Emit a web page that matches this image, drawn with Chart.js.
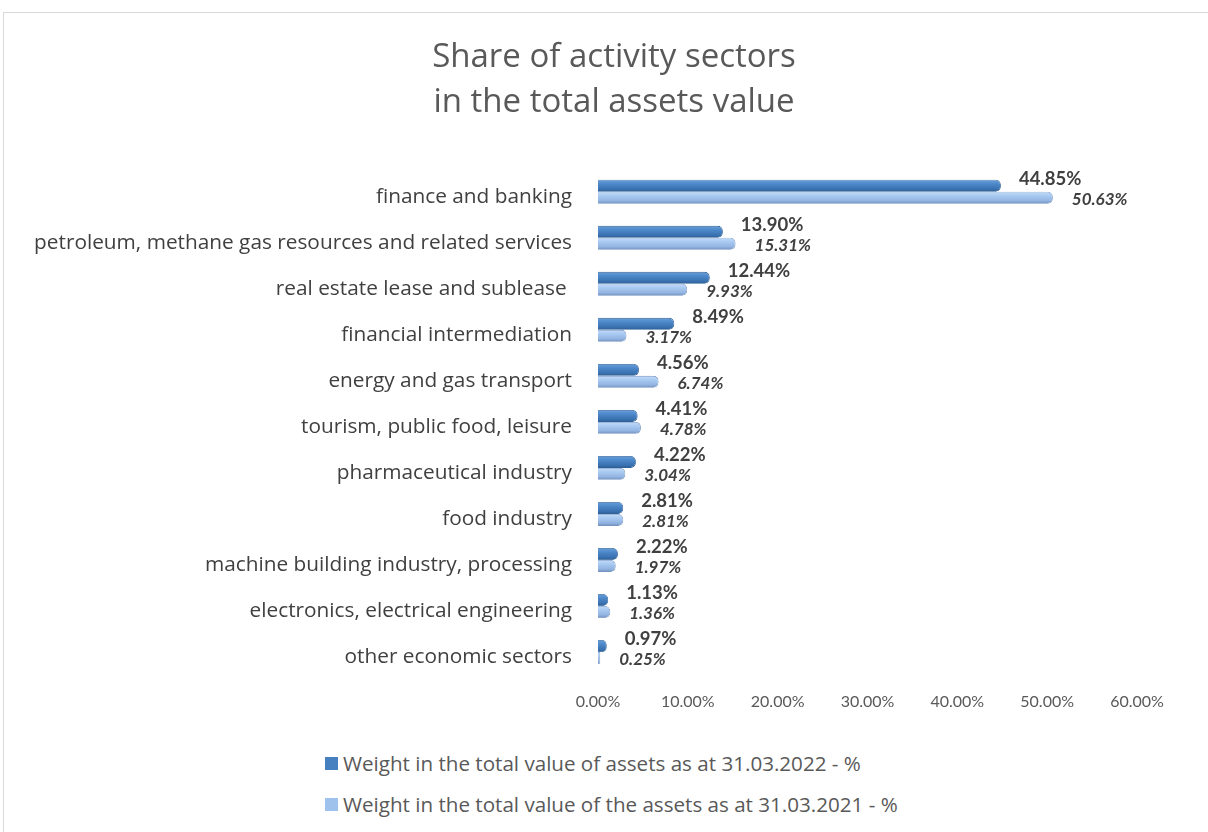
<!DOCTYPE html>
<html>
<head>
<meta charset="utf-8">
<script src="https://cdn.jsdelivr.net/npm/chart.js@4"></script>
<style>
  html, body { margin:0; padding:0; background:#fff; overflow:hidden; width:1208px; height:832px; }
  #frame { position:absolute; left:3px; top:12px; width:1230px; height:860px; border:1px solid #d9d9d9; box-sizing:border-box; }
  #wrap { position:absolute; left:4px; top:12px; width:1220px; height:730px; }
  #legend { position:absolute; left:325px; top:750px; font-family:"Open Sans", sans-serif; font-size:20.6px; color:#595959; }
  .li { display:flex; align-items:center; height:26px; margin-bottom:15px; white-space:nowrap; }
  .sw { width:13px; height:13px; margin-right:5px; flex:none; }
</style>
</head>
<body>
<div id="frame"></div>
<div id="wrap"><canvas id="c" width="1220" height="730"></canvas></div>
<div id="legend"></div>
<script>
const titleLines = ["Share of activity sectors", "in the total assets value"];
const categories = [
  "finance and banking",
  "petroleum, methane gas resources and related services",
  "real estate lease and sublease ",
  "financial intermediation",
  "energy and gas transport",
  "tourism, public food, leisure",
  "pharmaceutical industry",
  "food industry",
  "machine building industry, processing",
  "electronics, electrical engineering",
  "other economic sectors"
];
const series2022Label = "Weight in the total value of assets as at 31.03.2022 - %";
const series2021Label = "Weight in the total value of the assets as at 31.03.2021 - %";
const values2022 = [44.85, 13.90, 12.44, 8.49, 4.56, 4.41, 4.22, 2.81, 2.22, 1.13, 0.97];
const values2021 = [50.63, 15.31, 9.93, 3.17, 6.74, 4.78, 3.04, 2.81, 1.97, 1.36, 0.25];
const xTicks = [0, 10, 20, 30, 40, 50, 60];

const darkColor = "#4680c0";
const lightColor = "#9fc2ec";
const catPct = 0.52;

const ctx = document.getElementById('c').getContext('2d');

// vertical "cylinder" gradient for each bar, computed from the category scale
function cylinder(stops, fallback) {
  return function(context) {
    const chart = context.chart;
    const ys = chart.scales && chart.scales.y;
    if (!ys || context.dataIndex == null || !chart.chartArea) return fallback;
    const center = ys.getPixelForValue(context.dataIndex);
    const band = (chart.chartArea.bottom - chart.chartArea.top) / categories.length * catPct / 2;
    const top = context.datasetIndex === 0 ? center - band : center;
    const bottom = top + band;
    if (!isFinite(top) || !isFinite(bottom)) return fallback;
    const g = chart.ctx.createLinearGradient(0, top, 0, bottom);
    stops.forEach(([p, c]) => g.addColorStop(p, c));
    return g;
  };
}

const labelPlugin = {
  id: 'valueLabels',
  afterDatasetsDraw(chart) {
    const c = chart.ctx;
    c.save();
    c.textBaseline = 'middle';
    c.textAlign = 'left';
    chart.data.datasets.forEach((ds, di) => {
      const meta = chart.getDatasetMeta(di);
      meta.data.forEach((el, i) => {
        const v = ds.data[i];
        const txt = v.toFixed(2) + '%';
        if (di === 0) {
          c.font = 'bold 18.5px Lato';
          c.fillStyle = '#404040';
          c.fillText(txt, el.x + 18, el.y - 7);
        } else {
          c.font = 'italic bold 17px Lato';
          c.fillStyle = '#404040';
          c.fillText(txt, el.x + 19, el.y + 2);
        }
      });
    });
    c.restore();
  }
};

const chart = new Chart(ctx, {
  type: 'bar',
  data: {
    labels: categories,
    datasets: [
      {
        label: series2022Label,
        data: values2022,
        backgroundColor: cylinder([[0, '#6aa0dc'], [0.35, '#4d88c9'], [0.75, '#3b73b2'], [1, '#2c5f98']], darkColor),
        borderColor: "#2e5f96",
        borderWidth: 0.8,
        borderRadius: 5,
        borderSkipped: 'start',
        categoryPercentage: catPct,
        barPercentage: 1.0
      },
      {
        label: series2021Label,
        data: values2021,
        backgroundColor: cylinder([[0, '#c2dcfa'], [0.35, '#a8c9f1'], [0.75, '#93b4e0'], [1, '#7391bf']], lightColor),
        borderColor: "#7393c0",
        borderWidth: 0.8,
        borderRadius: 5,
        borderSkipped: 'start',
        categoryPercentage: catPct,
        barPercentage: 1.0
      }
    ]
  },
  options: {
    indexAxis: 'y',
    responsive: false,
    animation: false,
    devicePixelRatio: 1,
    layout: { padding: { left: 0, right: 0, top: 0, bottom: 0 } },
    plugins: {
      legend: { display: false },
      tooltip: { enabled: false },
      title: {
        display: true,
        text: titleLines,
        color: '#595959',
        font: { family: 'Open Sans', size: 33, weight: 'normal', lineHeight: 1.36 },
        padding: { top: 23, bottom: 44 }
      }
    },
    scales: {
      x: {
        min: 0, max: 60,
        afterBuildTicks(scale) { scale.ticks = xTicks.map(v => ({ value: v })); },
        grid: { display: false, drawTicks: false },
        border: { display: false },
        ticks: {
          color: '#595959',
          font: { family: 'Lato', size: 16 },
          padding: 17,
          callback: v => Number(v).toFixed(2) + '%'
        },
        afterFit(scale) { scale.height = 730 - 663; }
      },
      y: {
        grid: { display: false, drawTicks: false },
        border: { display: false },
        ticks: {
          color: '#404040',
          font: { family: 'Open Sans', size: 20.8 },
          padding: 26,
          labelOffset: 5,
          autoSkip: false
        },
        afterFit(scale) { scale.width = 594; }
      },
      ySpacer: {
        type: 'category',
        position: 'right',
        display: true,
        grid: { display: false, drawTicks: false },
        border: { display: false },
        ticks: { display: false },
        afterFit(scale) { scale.width = 87; }
      }
    }
  },
  plugins: [labelPlugin]
});

const legendEl = document.getElementById('legend');
[[series2022Label, darkColor], [series2021Label, lightColor]].forEach(([t, col]) => {
  const d = document.createElement('div');
  d.className = 'li';
  const s = document.createElement('span');
  s.className = 'sw';
  s.style.background = col;
  const tx = document.createElement('span');
  tx.textContent = t;
  d.appendChild(s); d.appendChild(tx);
  legendEl.appendChild(d);
});
</script>
</body>
</html>
